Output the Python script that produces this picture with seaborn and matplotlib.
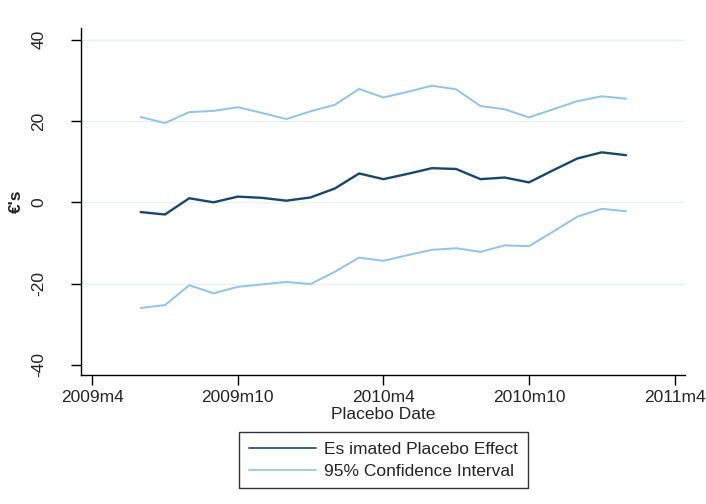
"""
Placebo test: estimated effect by placebo date with 95% confidence band
"""

import numpy as np
import matplotlib
matplotlib.use("Agg")
import matplotlib.pyplot as plt
import pandas as pd
import seaborn as sns

# Monthly placebo dates 2009m6 .. 2011m2
months = ['2009m6', '2009m7', '2009m8', '2009m9', '2009m10', '2009m11', '2009m12',
          '2010m1', '2010m2', '2010m3', '2010m4', '2010m5', '2010m6', '2010m7',
          '2010m8', '2010m9', '2010m10', '2010m11', '2010m12', '2011m1', '2011m2']
estimate = [-2.4, -3.0, 1.0, 0.0, 1.4, 1.1, 0.4, 1.2, 3.4, 7.1, 5.7,
            7.0, 8.4, 8.2, 5.7, 6.1, 4.9, 7.9, 10.8, 12.3, 11.6]
ci_upper = [21.0, 19.5, 22.2, 22.5, 23.4, 22.0, 20.5, 22.4, 24.0, 27.9, 25.8,
            27.2, 28.7, 27.8, 23.7, 22.9, 20.9, 22.9, 24.9, 26.1, 25.5]
ci_lower = [-26.0, -25.3, -20.4, -22.4, -20.8, -20.2, -19.6, -20.1, -17.1, -13.6, -14.4,
            -13.0, -11.7, -11.3, -12.2, -10.6, -10.8, -7.2, -3.5, -1.6, -2.2]

tick_labels = ['2009m4', '2009m10', '2010m4', '2010m10', '2011m4']
y_ticks = [-40, -20, 0, 20, 40]


def month_index(s):
    """Stata style monthly index (months since 1960m1)"""
    year, month = s.split('m')
    return (int(year) - 1960) * 12 + int(month) - 1


sns.set_style("white")
plt.rcParams['font.family'] = ['Liberation Sans', 'DejaVu Sans']
fs = 12.5

df = pd.DataFrame({'date': [month_index(m) for m in months],
                   'estimate': estimate,
                   'upper': ci_upper,
                   'lower': ci_lower})

navy = '#1a476f'
light = '#90c4ec'

fig = plt.figure(figsize=(7.06, 5.04), dpi=100)
ax = fig.add_axes([81 / 706, 1 - 375 / 504, (685 - 81) / 706, (375 - 28) / 504])

# horizontal grid lines
for yt in y_ticks[1:]:
    ax.axhline(yt, color='#eaf2f3', lw=1.0, zorder=0)

sns.lineplot(data=df, x='date', y='estimate', ax=ax, color=navy, lw=1.7,
             label='Es imated Placebo Effect', legend=False)
sns.lineplot(data=df, x='date', y='upper', ax=ax, color=light, lw=1.4,
             label='95% Confidence Interval', legend=False)
sns.lineplot(data=df, x='date', y='lower', ax=ax, color=light, lw=1.4, legend=False)

x_ticks = [month_index(t) for t in tick_labels]
ax.set_xticks(x_ticks)
ax.set_xticklabels(tick_labels, fontsize=fs)
ax.set_xlim(x_ticks[0] - 0.46, x_ticks[0] + 24.43)

ax.set_yticks(y_ticks)
ax.set_yticklabels([str(v) for v in y_ticks], fontsize=fs, rotation=90, va='center')
ax.set_ylim(-42.5, 42.9)

for side in ['top', 'right']:
    ax.spines[side].set_visible(False)
for side in ['left', 'bottom']:
    ax.spines[side].set_color('black')
    ax.spines[side].set_linewidth(1.0)

ax.tick_params(axis='x', direction='out', length=7, width=1, color='black', pad=4, bottom=True)
ax.tick_params(axis='y', direction='out', length=7, width=1, color='black', pad=18, left=True)

ax.set_xlabel('Placebo Date', fontsize=fs, labelpad=1)
ax.set_ylabel("€'s", fontsize=fs, fontweight='bold')
ax.yaxis.set_label_coords(-57 / 604, 0.5)

handles, labels = ax.get_legend_handles_labels()
leg = fig.legend(handles, labels, loc='upper center', ncol=1,
                 bbox_to_anchor=(383.5 / 706, 1 - 432 / 504), fontsize=fs,
                 frameon=True, fancybox=False, edgecolor='black',
                 handlelength=3.85, handletextpad=0.5, borderpad=0.55,
                 labelspacing=0.4, borderaxespad=0)
leg.get_frame().set_linewidth(1.0)
for line in leg.get_lines():
    line.set_linewidth(1.2)

fig.savefig('out.png', dpi=100)
plt.close(fig)
